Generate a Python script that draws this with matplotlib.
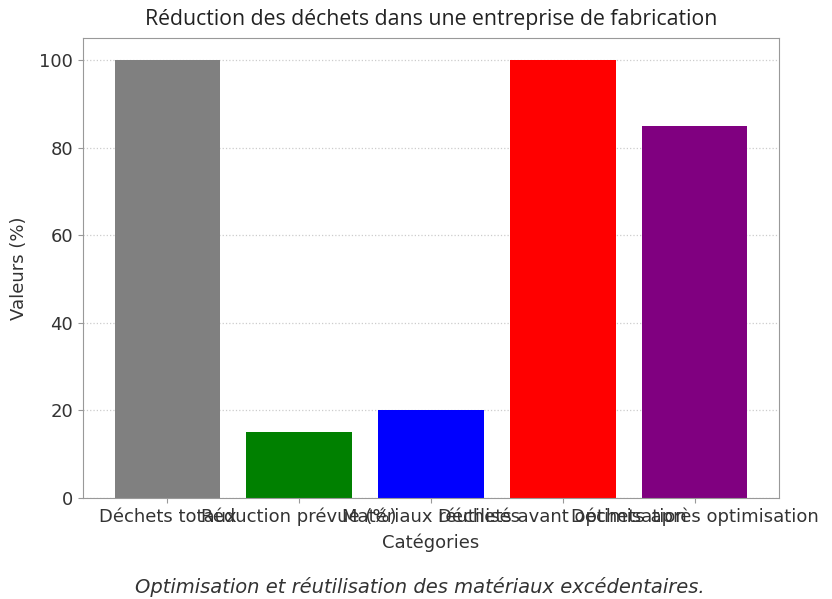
import matplotlib
matplotlib.use("Agg")
import matplotlib.pyplot as plt

categories = ["Déchets totaux", "Réduction prévue (%)", "Matériaux réutilisés",
              "Déchets avant optimisation", "Déchets après optimisation"]
values = [100, 15, 20, 100, 85]
colors = ["gray", "green", "blue", "red", "purple"]

title = "Réduction des déchets dans une entreprise de fabrication"
caption = "Optimisation et réutilisation des matériaux excédentaires."

plt.rcParams["font.family"] = ["DejaVu Sans"]
text_col = "#333333"
edge_col = "#999999"

fig = plt.figure(figsize=(8.32, 5.99), dpi=100)
ax = fig.add_axes([0.0998, 0.1686, 0.8365, 0.768])

ax.bar(categories, values, color=colors, width=0.8, zorder=2)
ax.set_ylim(0, 105)
ax.yaxis.grid(True, linestyle=":", color="#cccccc", linewidth=0.9, zorder=0)

for s in ax.spines.values():
    s.set_color(edge_col)
ax.tick_params(colors=edge_col, labelcolor=text_col, labelsize=13)

ax.set_title(title, fontsize=15.3, color="#222222", pad=9,
             family=["Open Sans", "DejaVu Sans"])
ax.set_xlabel("Catégories", fontsize=13, color=text_col, labelpad=5)
ax.set_ylabel("Valeurs (%)", fontsize=13, color=text_col, labelpad=8)

fig.text(0.505, 0.003, caption, ha="center", va="bottom", fontsize=14,
         style="italic", color=text_col)

fig.savefig("out.png", dpi=100)
